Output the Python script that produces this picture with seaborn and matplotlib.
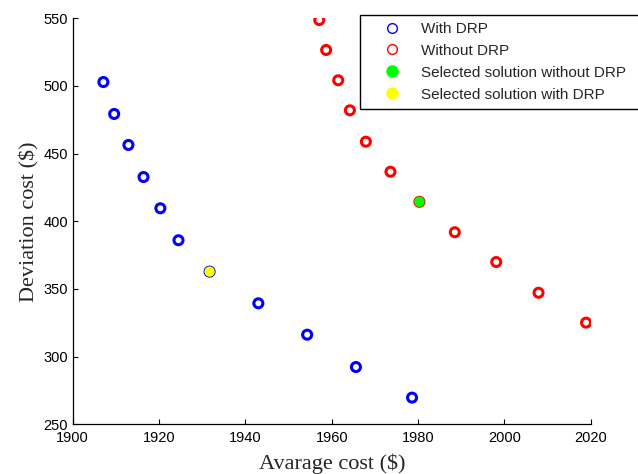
import matplotlib
matplotlib.use("Agg")
import matplotlib.pyplot as plt
import seaborn as sns
from matplotlib.lines import Line2D

# Pareto fronts
with_drp_cost = [1907.1, 1909.6, 1912.9, 1916.4, 1920.3, 1924.5, 1931.7, 1943.0, 1954.3, 1965.6, 1978.6]
with_drp_dev = [502.9, 479.3, 456.4, 432.7, 409.6, 386.0, 362.8, 339.4, 316.2, 292.3, 269.7]

without_drp_cost = [1957.1, 1958.7, 1961.5, 1964.2, 1967.9, 1973.6, 1980.3, 1988.5, 1998.1, 2007.9, 2018.9]
without_drp_dev = [548.7, 526.6, 504.2, 482.0, 458.8, 436.6, 414.4, 391.9, 369.9, 347.2, 325.1]

# selected solutions
sel_without_cost = [1980.3]
sel_without_dev = [414.4]
sel_with_cost = [1931.7]
sel_with_dev = [362.8]

legend_labels = ["With DRP", "Without DRP", "Selected solution without DRP", "Selected solution with DRP"]

sns.set_style("ticks")
plt.rcParams["font.family"] = ["Liberation Sans", "DejaVu Sans"]
plt.rcParams["xtick.direction"] = "in"
plt.rcParams["ytick.direction"] = "in"

fig = plt.figure(figsize=(6.38, 4.74), dpi=100)
ax = fig.add_axes([0.114, 0.1049, 0.812, 0.8565])

sns.scatterplot(x=with_drp_cost, y=with_drp_dev, ax=ax, marker="o", s=42,
                facecolors="none", edgecolor="blue", linewidth=2.2, zorder=3)
sns.scatterplot(x=without_drp_cost, y=without_drp_dev, ax=ax, marker="o", s=42,
                facecolors="none", edgecolor="red", linewidth=2.2, zorder=3)
sns.scatterplot(x=sel_without_cost, y=sel_without_dev, ax=ax, marker="o", s=55,
                color="#00ff00", edgecolor="none", linewidth=0, zorder=4)
sns.scatterplot(x=sel_with_cost, y=sel_with_dev, ax=ax, marker="o", s=55,
                color="#ffff00", edgecolor="none", linewidth=0, zorder=4)

ax.set_xlim(1900, 2020)
ax.set_ylim(250, 550)
ax.set_xticks(range(1900, 2021, 20))
ax.set_yticks(range(250, 551, 50))
ax.tick_params(labelsize=10.5, length=3.5, width=0.8, colors="black")
ax.tick_params(axis="x", pad=5)
sns.despine(ax=ax)
for sp in ax.spines.values():
    sp.set_linewidth(0.9)
    sp.set_color("black")

ax.set_xlabel("Avarage cost ($)", family="Liberation Serif", fontsize=16, labelpad=6)
ax.set_ylabel("Deviation cost ($)", family="Liberation Serif", fontsize=16, labelpad=3)

handles = [
    Line2D([], [], ls="", marker="o", ms=7, mfc="none", mec="blue", mew=1.0),
    Line2D([], [], ls="", marker="o", ms=7, mfc="none", mec="red", mew=1.0),
    Line2D([], [], ls="", marker="o", ms=8, mfc="#00ff00", mec="#00ff00", mew=1.0),
    Line2D([], [], ls="", marker="o", ms=8, mfc="#ffff00", mec="#ffff00", mew=1.0),
]
# legend box runs off the right edge in the original
leg = fig.legend(handles, legend_labels, loc="upper left",
                 bbox_to_anchor=(359.5 / 638, 1 - 15 / 474, 285 / 638, 0), mode="expand",
                 fontsize=11, frameon=True, fancybox=False, edgecolor="black", framealpha=1,
                 borderaxespad=0, handlelength=3.4, handletextpad=0.2,
                 labelspacing=0.52, borderpad=0.45)
leg.get_frame().set_linewidth(1.0)

fig.savefig("out.png", dpi=100)
